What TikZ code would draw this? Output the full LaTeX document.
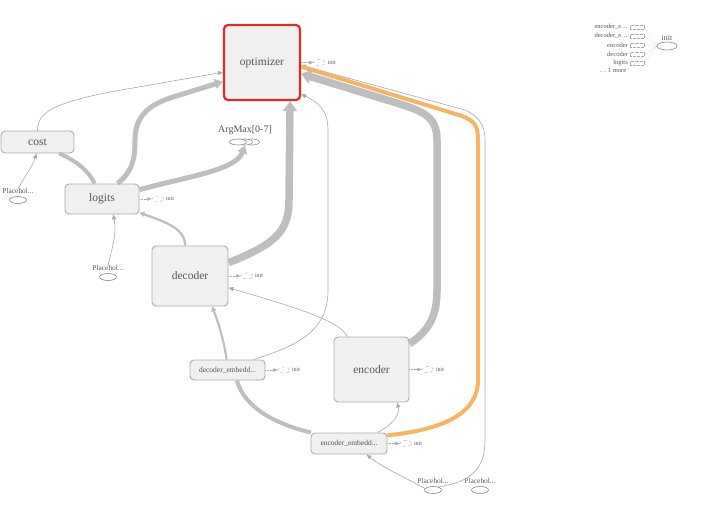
\documentclass[tikz,border=0pt]{standalone}
\usepackage{fontspec}
\setmainfont{Liberation Serif}
\usetikzlibrary{arrows.meta,positioning,shapes.geometric}

\definecolor{boxfill}{HTML}{F0F0F0}
\definecolor{boxline}{HTML}{ABABAB}
\definecolor{edgegray}{HTML}{BEBEBE}
\definecolor{thingray}{HTML}{A8A8A8}
\definecolor{hilite}{HTML}{F5B563}
\definecolor{selred}{HTML}{DD2A22}
\definecolor{textgray}{HTML}{555555}

\tikzset{
  opbox/.style={draw=boxline, fill=boxfill, line width=0.9pt, rounded corners=4pt,
    inner sep=0pt, text=textgray, font=\fontsize{11.5}{12}\selectfont},
  smallbox/.style={opbox, font=\fontsize{7.5}{8}\selectfont},
  phell/.style={draw=textgray!70, ellipse, line width=0.6pt, minimum width=17pt,
    minimum height=7pt, inner sep=0pt},
  phlbl/.style={text=textgray, inner sep=0pt, font=\fontsize{7.4}{8}\selectfont},
  initell/.style={draw=boxline, dashed, ellipse, line width=0.4pt, minimum width=12pt,
    minimum height=6pt, inner sep=0pt},
  initlbl/.style={text=textgray, inner sep=0pt, font=\fontsize{6}{7}\selectfont},
  initedge/.style={draw=boxline, densely dotted, line width=0.4pt,
    -{Triangle[length=4pt,width=3.5pt]}},
  thin/.style={draw=thingray, line width=0.6pt, -{Triangle[length=5pt,width=4pt]}},
  mid/.style={draw=edgegray, line width=2.2pt, -{Triangle[length=5pt,width=5.5pt]}},
  wide/.style={draw=edgegray, line width=4pt, -{Triangle[length=8pt,width=10pt]}},
  huge/.style={draw=edgegray, line width=7.5pt, -{Triangle[length=10pt,width=14pt]}},
  legtext/.style={text=textgray, inner sep=0pt, font=\fontsize{6.5}{7}\selectfont},
  legbox/.style={draw=boxline, densely dotted, line width=0.3pt, minimum width=14pt,
    minimum height=4pt, inner sep=0pt}
}

\begin{document}
\begin{tikzpicture}[x=1pt, y=-1pt]
  \useasboundingbox (0,0) rectangle (726,520);

  % operation boxes
  \node [opbox, minimum width=76pt, minimum height=75pt, draw=selred, line width=2.2pt]
    (optimizer) at (262,62.5) {optimizer};
  \node [opbox, minimum width=73pt, minimum height=22pt] (cost) at (37.5,142) {cost};
  \node [opbox, minimum width=74pt, minimum height=30pt] (logits) at (102,199) {logits};
  \node [opbox, minimum width=76pt, minimum height=60pt] (decoder) at (190,276) {decoder};
  \node [smallbox, minimum width=75pt, minimum height=20pt] (dembed) at (227.5,370)
    {decoder\_embedd...};
  \node [opbox, minimum width=75pt, minimum height=65pt] (encoder) at (371.5,369.5) {encoder};
  \node [smallbox, minimum width=76pt, minimum height=21pt] (eembed) at (349,443.5)
    {encoder\_embedd...};

  % placeholders and argmax
  \node [phell] (ph1) at (18,200) {};
  \node [phlbl, above=2pt of ph1] (ph1lbl) {Placehol...};
  \node [phell] (ph2) at (108,277) {};
  \node [phlbl, above=2pt of ph2] (ph2lbl) {Placehol...};
  \node [phell] (ph3) at (433,490) {};
  \node [phlbl, above=2pt of ph3] (ph3lbl) {Placehol...};
  \node [phell] (ph4) at (480,490) {};
  \node [phlbl, above=2pt of ph4] (ph4lbl) {Placehol...};
  \node [phell, minimum width=15pt, minimum height=6pt, fill=white] (argmaxC) at (252,142) {};
  \node [phell, minimum width=15pt, minimum height=6pt, fill=white] (argmaxB) at (245,142) {};
  \node [phell, minimum width=17pt, minimum height=6pt, fill=white] (argmaxA) at (238,142) {};
  \node [text=textgray, inner sep=0pt, font=\fontsize{10}{11}\selectfont] (argmax)
    at (245,130) {ArgMax[0-7]};

  % init links
  \foreach \op in {optimizer, logits, decoder, dembed, encoder, eembed} {
    \node [initell, right=12pt of \op] (\op-init) {};
    \node [initlbl, right=2pt of \op-init] {init};
    \draw [initedge] (\op) -- (\op-init);
  }

  % data flow
  \draw [thin] (cost.north) .. controls (37,112) and (55,103) .. (110,92) -- (optimizer.194);
  \draw [wide, -] (logits.115) .. controls (88,170) and (75,160) .. (cost.332);
  \draw [thin] (ph1lbl.north) .. controls (26,175) and (33,165) .. (cost.265);
  \draw [wide, line width=5pt] (logits.45) .. controls (132,172) and (135,160) .. (135,140)
    .. controls (135,115) and (150,105) .. (170,98) -- (optimizer.206);
  \draw [wide, line width=5pt] (logits.14) .. controls (190,176) and (236,170) .. (argmaxB.south);
  \draw [thin] (ph2lbl.north) .. controls (112,248) and (117,235) .. (logits.306);
  \draw [mid] (decoder.99) .. controls (185,228) and (165,222) .. (logits.340);
  \draw [huge] (decoder.19) .. controls (275,244) and (289,232) .. (289,200) -- (optimizer.306);
  \draw [mid] (dembed.95) .. controls (224,340) and (218,322) .. (decoder.306);
  \draw [thin] (dembed.22) .. controls (300,345) and (328,330) .. (328,290) -- (328,130)
    .. controls (328,110) and (318,102) .. (optimizer.321);
  \draw [thin] (encoder.126) .. controls (340,324) and (320,314) .. (decoder.343);
  \draw [huge] (encoder.34) .. controls (430,330) and (437,315) .. (437,290) -- (437,140)
    .. controls (437,118) and (425,112) .. (400,104) -- (optimizer.344);
  \draw [wide, -] (eembed.164) .. controls (280,425) and (245,410) .. (dembed.312);
  \draw [thin] (eembed.21) .. controls (392,425) and (400,415) .. (encoder.308);
  \draw [thin] (ph3.170) .. controls (410,480) and (380,466) .. (eembed.328);
  \draw [thin] (ph3.30) .. controls (470,482) and (485,470) .. (485,440) -- (485,140)
    .. controls (485,124) and (478,116) .. (465,110) -- (optimizer.356);
  \draw [draw=hilite, line width=4pt] (eembed.12) .. controls (440,430) and (478,415)
    .. (478,380) -- (478,140) .. controls (478,125) and (474,121) .. (462,116)
    -- (optimizer.354);

  % init summary
  \node [initell, solid, draw=textgray!70, line width=0.6pt,
    minimum width=20pt, minimum height=8pt] (initall) at (667,46) {};
  \node [initlbl, font=\fontsize{8}{9}\selectfont, above=1pt of initall] {init};
  \foreach \lbl [count=\i] in {{encoder\_e\dots}, {decoder\_e\dots}, encoder, decoder, logits} {
    \node [legtext, anchor=east] (leg\i) at (628,18+9*\i) {\lbl};
    \node [legbox, right=2pt of leg\i] (legb\i) {};
    \draw [draw=boxline, densely dotted, line width=0.3pt] (legb\i.east) -- (initall.west);
  }
  \node [legtext] (legmore) at (613,70) {\dots{} 1 more};
  \draw [draw=boxline, densely dotted, line width=0.3pt] (legmore.east) -- (initall.west);
\end{tikzpicture}
\end{document}
